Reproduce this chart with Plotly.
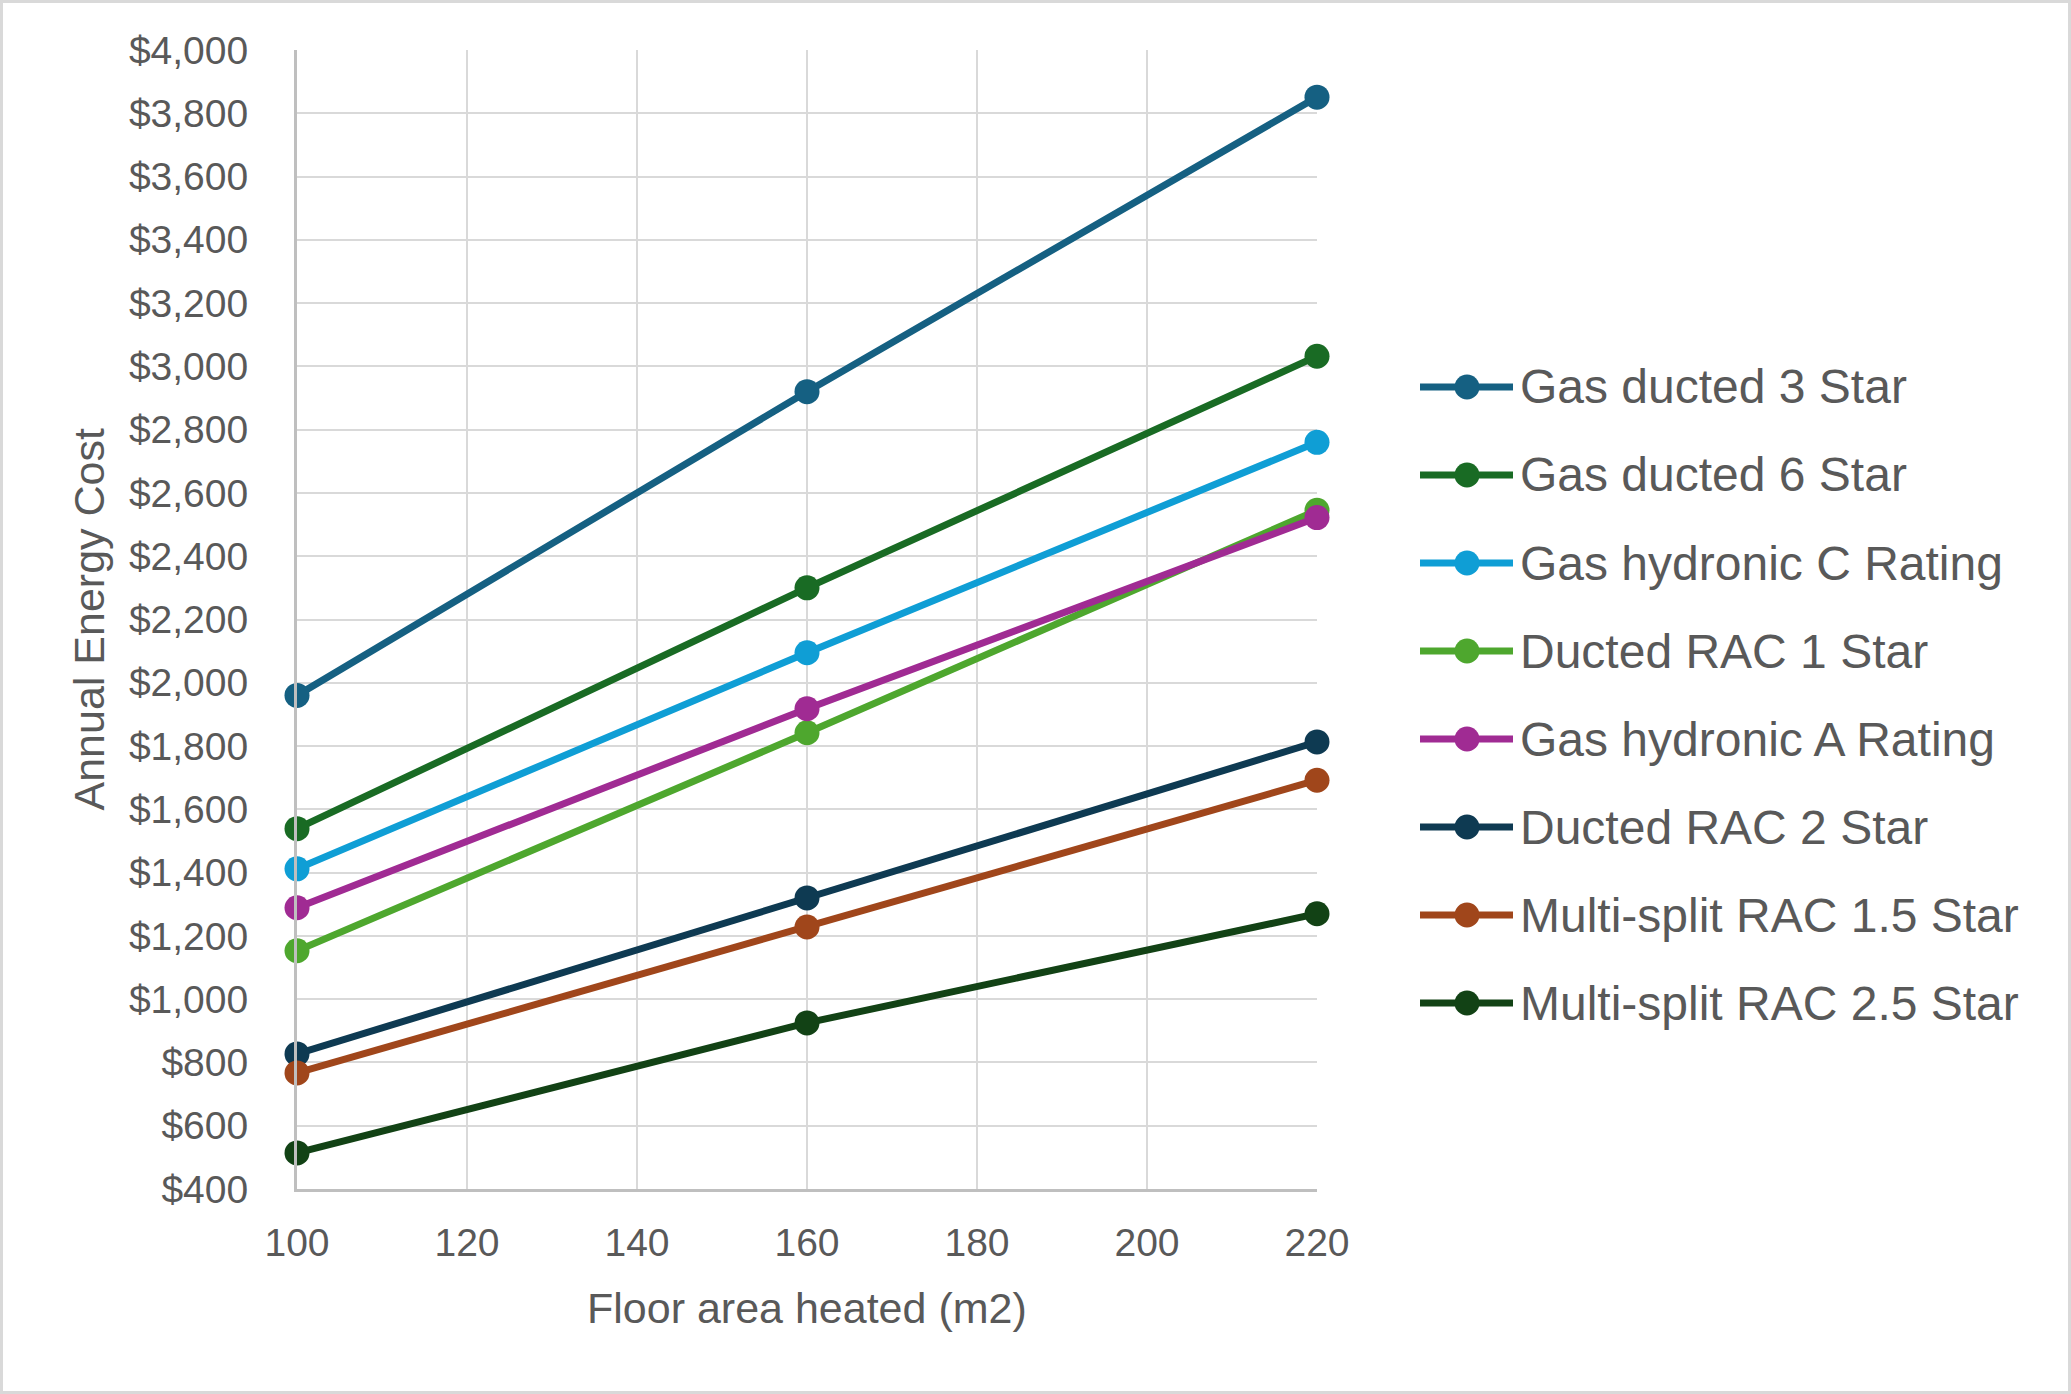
import plotly.graph_objects as go

# ---- data ----
floor_area = [100, 160, 220]
series_names = [
    "Gas ducted 3 Star",
    "Gas ducted 6 Star",
    "Gas hydronic C Rating",
    "Ducted RAC 1 Star",
    "Gas hydronic A Rating",
    "Ducted RAC 2 Star",
    "Multi-split RAC 1.5 Star",
    "Multi-split RAC 2.5 Star",
]
gas_ducted_3 = [1960, 2920, 3851]
gas_ducted_6 = [1539, 2300, 3032]
gas_hydronic_c = [1412, 2095, 2760]
ducted_rac_1 = [1153, 1842, 2545]
gas_hydronic_a = [1289, 1918, 2522]
ducted_rac_2 = [827, 1320, 1813]
multi_split_15 = [767, 1228, 1692]
multi_split_25 = [514, 925, 1270]
series_values = [gas_ducted_3, gas_ducted_6, gas_hydronic_c, ducted_rac_1,
                 gas_hydronic_a, ducted_rac_2, multi_split_15, multi_split_25]
colors = ["#156082", "#196B24", "#0F9ED5", "#4EA72E",
          "#A02B93", "#0E3A52", "#A0461B", "#124215"]

# ---- layout geometry (pixels) ----
W, H = 2071, 1394
ML, MR, MT, MB = 297, 754, 50, 205
PW, PH = W - ML - MR, H - MT - MB
TEXT = "#595959"
FONT = "Liberation Sans, Arial, sans-serif"

def px_x(px):
    return (px - ML) / PW

def px_y(py):
    return 1 - (py - MT) / PH

fig = go.Figure()
for name, vals, col in zip(series_names, series_values, colors):
    fig.add_trace(go.Scatter(
        x=floor_area, y=vals, name=name, mode="lines+markers",
        line=dict(color=col, width=7),
        marker=dict(color=col, size=25, line=dict(width=0)),
        cliponaxis=False, showlegend=False,
    ))

shapes = []
annotations = []
# custom legend
for i, (name, col) in enumerate(zip(series_names, colors)):
    cy = 387 + 88 * i
    shapes.append(dict(type="line", xref="paper", yref="paper",
                       x0=px_x(1420), x1=px_x(1513), y0=px_y(cy), y1=px_y(cy),
                       line=dict(color=col, width=7)))
    shapes.append(dict(type="circle", xref="paper", yref="paper",
                       xsizemode="pixel", ysizemode="pixel",
                       xanchor=px_x(1467), yanchor=px_y(cy),
                       x0=-12.5, x1=12.5, y0=-12.5, y1=12.5,
                       fillcolor=col, line=dict(width=0)))
    annotations.append(dict(text=name, xref="paper", yref="paper",
                            x=px_x(1518), y=px_y(cy), xanchor="left", yanchor="middle",
                            showarrow=False, font=dict(size=48, color=TEXT, family=FONT)))

# outer border
shapes.append(dict(type="rect", xref="paper", yref="paper", layer="below",
                   x0=px_x(1.5), x1=px_x(W - 1.5), y0=px_y(1.5), y1=px_y(H - 1.5),
                   line=dict(color="#D9D9D9", width=3), fillcolor="rgba(0,0,0,0)"))

# axis titles
annotations.append(dict(text="Annual Energy Cost", xref="paper", yref="paper",
                        x=px_x(88), y=0.5, xanchor="center", yanchor="middle",
                        textangle=-90, showarrow=False,
                        font=dict(size=43, color=TEXT, family=FONT)))
annotations.append(dict(text="Floor area heated (m2)", xref="paper", yref="paper",
                        x=0.5, y=px_y(1308), xanchor="center", yanchor="middle",
                        showarrow=False, font=dict(size=43, color=TEXT, family=FONT)))

fig.update_layout(
    width=W, height=H,
    margin=dict(l=ML, r=MR, t=MT, b=MB, pad=0),
    paper_bgcolor="white", plot_bgcolor="white",
    font=dict(family=FONT, color=TEXT, size=38),
    shapes=shapes, annotations=annotations,
    showlegend=False,
)
fig.update_xaxes(
    range=[100, 220], dtick=20, tick0=100,
    showgrid=True, gridcolor="#D9D9D9", gridwidth=2,
    showline=True, linecolor="#BFBFBF", linewidth=3,
    zeroline=False, ticks="", ticklabelstandoff=17,
    tickfont=dict(size=39, color=TEXT, family=FONT),
)
fig.update_yaxes(
    range=[400, 4000], dtick=200, tick0=400,
    tickprefix="$", tickformat=",",
    showgrid=True, gridcolor="#D9D9D9", gridwidth=2,
    showline=True, linecolor="#BFBFBF", linewidth=3,
    zeroline=False, ticks="", ticklabelstandoff=38,
    tickfont=dict(size=39, color=TEXT, family=FONT),
)

fig.write_html("out.html", config={"displayModeBar": False},
               post_script="document.body.style.margin='0';document.body.style.overflow='hidden';")
